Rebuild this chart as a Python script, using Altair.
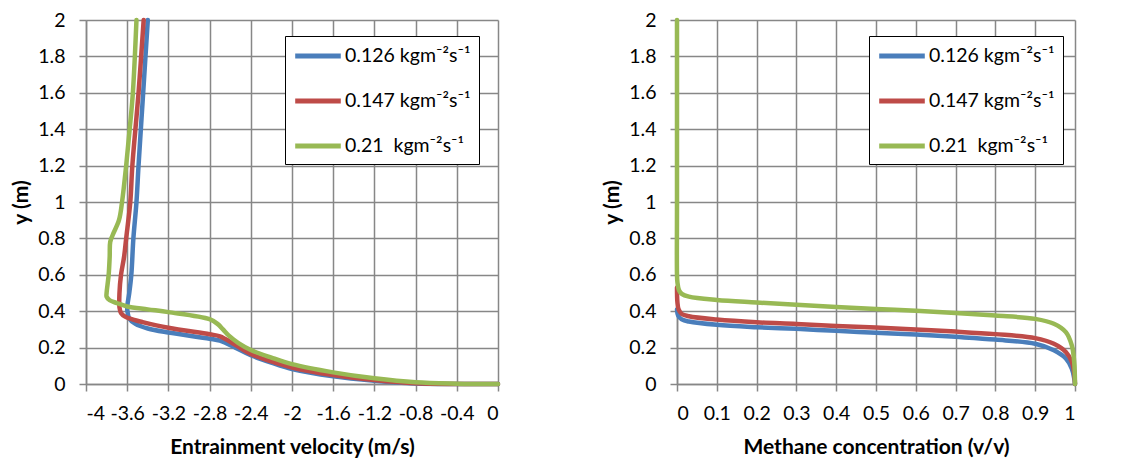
import altair as alt
import pandas as pd

# ---------------- data ----------------
series_names = ["0.126 kgm\u207b\u00b2s\u207b\u00b9",
                "0.147 kgm\u207b\u00b2s\u207b\u00b9",
                "0.21\u00a0\u00a0kgm\u207b\u00b2s\u207b\u00b9"]
series_colors = ["#4A7EBB", "#BE4B48", "#98B954"]

# Left panel: entrainment velocity (m/s) vs y (m)
vel_126_x = [-3.40, -3.445, -3.49, -3.51, -3.54, -3.56, -3.58, -3.60, -3.595, -3.58, -3.52, -3.40, -3.20, -2.80, -2.70, -2.55, -2.40, -2.20, -2.00, -1.60, -1.20, -0.80, -0.40, 0.0]
vel_126_y = [2.00, 1.60, 1.20, 1.00, 0.80, 0.60, 0.50, 0.42, 0.39, 0.36, 0.33, 0.305, 0.283, 0.249, 0.238, 0.200, 0.158, 0.117, 0.082, 0.042, 0.018, 0.003, 0.0, 0.0]

vel_147_x = [-3.44, -3.49, -3.55, -3.57, -3.61, -3.63, -3.66, -3.675, -3.675, -3.66, -3.62, -3.55, -3.45, -3.20, -2.80, -2.70, -2.55, -2.40, -2.20, -2.00, -1.60, -1.20, -0.80, -0.40, 0.0]
vel_147_y = [2.00, 1.60, 1.20, 1.00, 0.80, 0.70, 0.60, 0.50, 0.42, 0.39, 0.37, 0.355, 0.34, 0.309, 0.273, 0.262, 0.215, 0.165, 0.124, 0.091, 0.049, 0.022, 0.004, 0.0, 0.0]

vel_21_x = [-3.51, -3.545, -3.576, -3.61, -3.65, -3.68, -3.74, -3.765, -3.77, -3.78, -3.80, -3.80, -3.77, -3.70, -3.60, -3.40, -3.20, -2.80, -2.72, -2.67, -2.61, -2.52, -2.40, -2.20, -2.00, -1.60, -1.20, -0.80, -0.40, 0.0]
vel_21_y = [2.00, 1.60, 1.40, 1.20, 1.00, 0.90, 0.82, 0.78, 0.70, 0.60, 0.50, 0.48, 0.46, 0.445, 0.426, 0.41, 0.395, 0.356, 0.329, 0.30, 0.264, 0.225, 0.187, 0.145, 0.109, 0.064, 0.031, 0.009, 0.002, 0.0]

# Right panel: methane concentration (v/v) vs y (m)
ch4_126_x = [0.0, 0.003, 0.012, 0.03, 0.1, 0.2, 0.3, 0.4, 0.5, 0.6, 0.7, 0.8, 0.9, 0.947, 0.977, 0.992, 0.998, 1.0]
ch4_126_y = [0.41, 0.375, 0.355, 0.343, 0.325, 0.312, 0.303, 0.292, 0.282, 0.272, 0.259, 0.244, 0.221, 0.185, 0.14, 0.085, 0.031, 0.0]

ch4_147_x = [0.0, 0.001, 0.004, 0.012, 0.03, 0.1, 0.2, 0.3, 0.4, 0.5, 0.6, 0.7, 0.8, 0.9, 0.947, 0.977, 0.992, 0.998, 1.0]
ch4_147_y = [0.53, 0.45, 0.41, 0.385, 0.372, 0.354, 0.339, 0.33, 0.319, 0.31, 0.299, 0.288, 0.274, 0.252, 0.221, 0.176, 0.121, 0.06, 0.0]

ch4_21_x = [0.0, 0.0, 0.0, 0.001, 0.005, 0.012, 0.03, 0.1, 0.2, 0.3, 0.4, 0.5, 0.6, 0.7, 0.8, 0.9, 0.947, 0.977, 0.992, 0.998, 1.0]
ch4_21_y = [2.0, 1.0, 0.6, 0.56, 0.515, 0.495, 0.48, 0.462, 0.448, 0.435, 0.423, 0.412, 0.402, 0.39, 0.376, 0.358, 0.331, 0.285, 0.212, 0.121, 0.0]

vel_ticks = [-4, -3.6, -3.2, -2.8, -2.4, -2, -1.6, -1.2, -0.8, -0.4, 0]
ch4_ticks = [0, 0.1, 0.2, 0.3, 0.4, 0.5, 0.6, 0.7, 0.8, 0.9, 1]
y_ticks = [0, 0.2, 0.4, 0.6, 0.8, 1, 1.2, 1.4, 1.6, 1.8, 2]


def build(xs_list, ys_list):
    rows = []
    for name, xs, ys in zip(series_names, xs_list, ys_list):
        for i, (xv, yv) in enumerate(zip(xs, ys)):
            rows.append({"series": name, "x": xv, "y": yv, "i": i})
    return pd.DataFrame(rows)


df_vel = build([vel_126_x, vel_147_x, vel_21_x], [vel_126_y, vel_147_y, vel_21_y])
df_ch4 = build([ch4_126_x, ch4_147_x, ch4_21_x], [ch4_126_y, ch4_147_y, ch4_21_y])

FONT = "Lato"
GRID = "#878787"
LABEL_SIZE = 19.5
TITLE_SIZE = 21
label_expr = "replace(format(datum.value, '.1~f'), '\u2212', '-')"

color_scale = alt.Scale(domain=series_names, range=series_colors)


def legend(lx, ly):
    return alt.Legend(
        title=None, orient="none", legendX=lx, legendY=ly,
        symbolType="M-2.4,0H2.4", symbolStrokeWidth=5, symbolSize=361,
        symbolOffset=13, symbolFillColor="transparent",
        labelFont=FONT, labelFontSize=LABEL_SIZE, labelColor="black", labelOffset=15,
        strokeColor="black", fillColor="white", padding=8, rowPadding=23,
        labelLimit=300,
    )


def y_axis():
    return alt.Axis(values=y_ticks, title="y (m)", labelExpr=label_expr,
                    labelPadding=14, titlePadding=6)


left = alt.Chart(df_vel).mark_line(
    strokeWidth=4.5, interpolate="catmull-rom", strokeCap="round", strokeJoin="round"
).encode(
    x=alt.X("x:Q", scale=alt.Scale(domain=[-4, 0], nice=False, zero=False),
            axis=alt.Axis(values=vel_ticks, title="Entrainment velocity (m/s)",
                          labelExpr=label_expr, labelPadding=13, titlePadding=14)),
    y=alt.Y("y:Q", scale=alt.Scale(domain=[0, 2], nice=False), axis=y_axis()),
    color=alt.Color("series:N", scale=color_scale, legend=legend(199, 16)),
    order=alt.Order("i:Q"),
).properties(width=412, height=364)

right = alt.Chart(df_ch4).mark_line(
    strokeWidth=4.5, interpolate="catmull-rom", strokeCap="round", strokeJoin="round"
).encode(
    x=alt.X("x:Q", scale=alt.Scale(domain=[0, 1], nice=False, zero=False),
            axis=alt.Axis(values=ch4_ticks, title="Methane concentration (v/v)",
                          labelExpr=label_expr, labelPadding=13, titlePadding=14)),
    y=alt.Y("y:Q", scale=alt.Scale(domain=[0, 2], nice=False), axis=y_axis()),
    color=alt.Color("series:N", scale=color_scale, legend=legend(192, 16)),
    order=alt.Order("i:Q"),
).properties(width=398, height=364)

chart = alt.hconcat(left, right, spacing=100).resolve_scale(color="independent").properties(
    padding={"left": 2, "top": 2, "right": 5, "bottom": 0}
).configure_view(stroke=None).configure_axis(
    grid=True, gridColor=GRID, gridWidth=1.5, domainColor=GRID, domainWidth=1.5,
    tickColor=GRID, tickWidth=1.5, tickSize=7,
    labelFont=FONT, labelFontSize=LABEL_SIZE, labelColor="black",
    titleFont=FONT, titleFontSize=TITLE_SIZE, titleFontWeight="bold", titleColor="black",
)

chart.save("out.html", embed_options={"renderer": "svg", "actions": False})
